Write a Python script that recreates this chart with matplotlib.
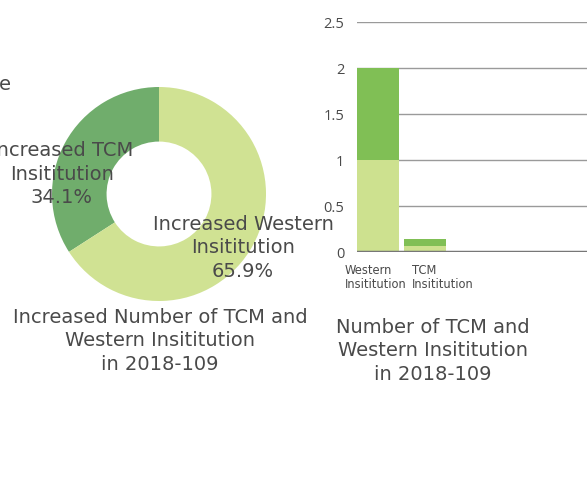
import numpy as np
import matplotlib.pyplot as plt
import matplotlib.transforms as mtrans

# donut data
pie_labels = ['Increased TCM\nInsititution', 'Increased Western\nInsititution']
pie_pct = [34.1, 65.9]
pie_colors = ['#70ad6c', '#d0e293']

# stacked bar data
bar_cats = ['Western\nInsititution', 'TCM\nInsititution']
bar_low = [1.0, 0.07]
bar_high = [1.0, 0.07]
yticks = [0, 0.5, 1, 1.5, 2, 2.5]

W, H = 587, 481
def box(x0, y0, x1, y1):  # pixel box -> fig fraction (y from top)
    return [x0 / W, 1 - y1 / H, (x1 - x0) / W, (y1 - y0) / H]

def px(x, y):
    return x / W, 1 - y / H

plt.rcParams['font.family'] = ['DejaVu Sans']
txt = '#4a4a4a'
fs = 14
ls = 1.3

fig = plt.figure(figsize=(W / 100, H / 100), dpi=100)

# ---- donut ----
ax1 = fig.add_axes(box(52, 88, 266, 302))
ax1.pie(pie_pct, colors=pie_colors, startangle=90, counterclock=True,
        wedgeprops=dict(width=0.51, linewidth=0))
ax1.set_aspect('equal')
ax1.set_xlim(-1, 1)
ax1.set_ylim(-1, 1)
ax1.axis('off')

for lab, p, (x, y) in zip(pie_labels, pie_pct, [(62, 174), (243, 248)]):
    fig.text(*px(x, y), f'{lab}\n{p}%', ha='center', va='center',
             fontsize=fs, color=txt, linespacing=ls)

fig.text(*px(160, 341), 'Increased Number of TCM and\nWestern Insititution\nin 2018-109',
         ha='center', va='center', fontsize=fs, color=txt, linespacing=ls)
fig.text(*px(11, 85), 'e', ha='right', va='center', fontsize=fs, color=txt)

# ---- stacked bars ----
ax2 = fig.add_axes(box(357, 23, 587, 253))
x = np.arange(len(bar_cats))
ax2.bar(x, bar_low, width=0.894, color='#cde18f', zorder=2)
ax2.bar(x, bar_high, bottom=bar_low, width=0.894, color='#80bf55', zorder=2)
ax2.set_xlim(-0.447, 4.447)
ax2.set_ylim(0, 2.5)
ax2.set_yticks(yticks)
ax2.set_yticklabels(['0', '0.5', '1', '1.5', '2', '2.5'], family='Open Sans')
ax2.grid(axis='y', color='#9a9a9a', lw=1, zorder=1)
ax2.axhline(0, color='#777777', lw=2.5, zorder=3)
for s in ax2.spines.values():
    s.set_visible(False)
ax2.tick_params(axis='y', length=0, pad=9, labelsize=10.5, labelcolor=txt)
ax2.tick_params(axis='x', length=0, pad=8, labelsize=8.3, labelcolor=txt)
ax2.set_xticks(x)
ax2.set_xticklabels(bar_cats, linespacing=1.05, ha='left')
for lab, dx in zip(ax2.get_xticklabels(), [-33, -13]):
    lab.set_transform(lab.get_transform() +
                      mtrans.ScaledTranslation(dx / 100, 0, fig.dpi_scale_trans))

fig.text(*px(433, 351), 'Number of TCM and\nWestern Insititution\nin 2018-109',
         ha='center', va='center', fontsize=fs, color=txt, linespacing=ls)

fig.savefig('out.png', dpi=100)
